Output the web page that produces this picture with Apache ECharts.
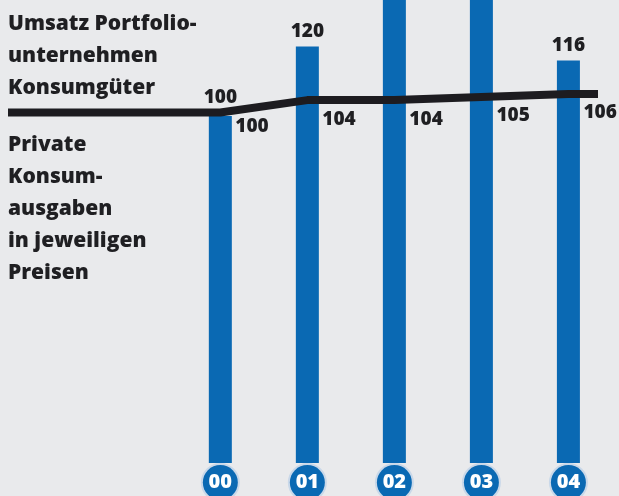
<!DOCTYPE html>
<html><head><meta charset="utf-8">
<script src="https://cdn.jsdelivr.net/npm/echarts@6/dist/echarts.min.js"></script>
<style>html,body{margin:0;padding:0;background:#e9eaec;}#c{width:619px;height:496px;}</style>
</head><body><div id="c"></div>
<script>
const categories = ['00', '01', '02', '03', '04'];
const barValues = [100, 120, 138, 142, 116];   // 02 and 03 run off the top (estimated)
const lineValues = [100, 104, 104, 105, 106];
const barTitle = 'Umsatz Portfolio-\nunternehmen\nKonsumgüter';
const lineTitle = 'Private\nKonsum-\nausgaben\nin jeweiligen\nPreisen';

const X_MIN = -2.44, X_MAX = 4.34, Y_MAX = 133.4;
const FONT = '"Open Sans", sans-serif';
const TXT = '#1f1f22';
const chart = echarts.init(document.getElementById('c'));

const barData = barValues.map((v, i) => ({
  value: [i, v],
  label: { show: v <= Y_MAX, distance: i === 0 ? 9 : 5 }
}));
const pts = lineValues.map((v, i) => ({ value: [i, v], label: { offset: [0, i === 0 ? 14 : 19] } }));
const lineData = [{ value: [X_MIN, lineValues[0]], label: { show: false } }]
  .concat(pts)
  .concat([{ value: [X_MAX, lineValues[lineValues.length - 1]], label: { show: false } }]);

chart.setOption({
  backgroundColor: '#e9eaec',
  animation: false,
  title: [
    { text: barTitle, left: 3, top: 3, textStyle: { fontFamily: FONT, fontWeight: 800, fontSize: 21, lineHeight: 32, color: TXT } },
    { text: lineTitle, left: 3, top: 124, textStyle: { fontFamily: FONT, fontWeight: 800, fontSize: 21, lineHeight: 32, color: TXT } }
  ],
  grid: { left: 8, right: 21, top: 0, bottom: 33, outerBoundsMode: 'none', containLabel: false },
  xAxis: {
    type: 'value', min: X_MIN, max: X_MAX,
    axisLine: { show: false }, axisTick: { show: false }, splitLine: { show: false },
    axisLabel: {
      customValues: categories.map((c, i) => i),
      formatter: v => '{c|' + categories[Math.round(v)] + '}',
      margin: 2,
      rich: {
        c: {
          backgroundColor: '#0a69b3', borderColor: '#c9d8e9', borderWidth: 2,
          borderRadius: 20, width: 35, height: 35, lineHeight: 35, align: 'center',
          color: '#fff', fontFamily: FONT, fontWeight: 800, fontSize: 20
        }
      }
    }
  },
  yAxis: [
    { type: 'value', min: 0, max: Y_MAX, show: false },
    { type: 'value', min: -13.8, max: 136.5, show: false }
  ],
  series: [
    {
      type: 'bar', data: barData, barWidth: 23, yAxisIndex: 0, clip: true,
      itemStyle: { color: '#0a69b3' },
      label: { position: 'top', color: TXT, fontFamily: FONT, fontWeight: 800, fontSize: 19 }
    },
    {
      type: 'line', data: lineData, yAxisIndex: 1, symbol: 'circle', symbolSize: 0, showSymbol: true,
      lineStyle: { color: '#1d1c20', width: 8, cap: 'butt', join: 'round' },
      itemStyle: { color: 'rgba(0,0,0,0)' },
      label: {
        show: true, position: 'right', distance: 15,
        color: TXT, fontFamily: FONT, fontWeight: 800, fontSize: 19,
        formatter: p => p.value[1]
      },
      z: 5
    }
  ]
});
</script></body></html>
